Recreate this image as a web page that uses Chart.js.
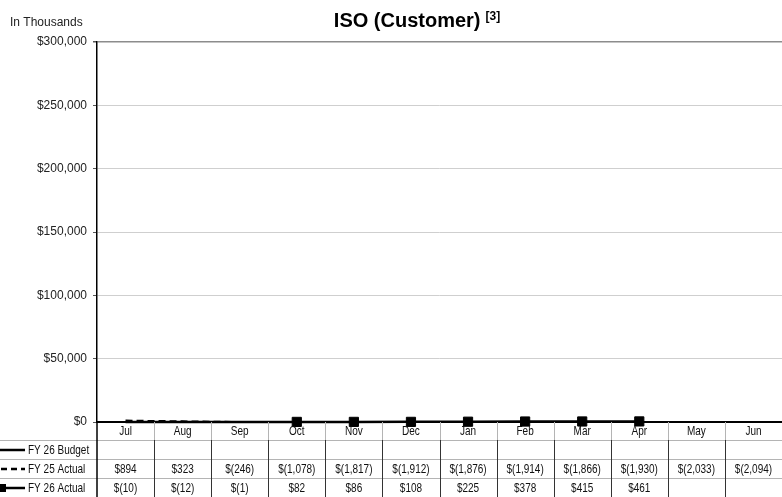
<!DOCTYPE html>
<html>
<head>
<meta charset="utf-8">
<script src="https://cdn.jsdelivr.net/npm/chart.js@4.4.1/dist/chart.umd.min.js"></script>
<style>
  html, body { margin: 0; padding: 0; background: #fff; }
  #wrap { position: relative; width: 782px; height: 497px; }
</style>
</head>
<body>
<div id="wrap"><canvas id="graficoIso"></canvas></div>
<script>
// dados (em milhares)
const meses = ['Jul', 'Aug', 'Sep', 'Oct', 'Nov', 'Dec', 'Jan', 'Feb', 'Mar', 'Apr', 'May', 'Jun'];
const fy26Budget = [null, null, null, null, null, null, null, null, null, null, null, null];
const fy25Actual = [894, 323, -246, -1078, -1817, -1912, -1876, -1914, -1866, -1930, -2033, -2094];
const fy26Actual = [-10, -12, -1, 82, 86, 108, 225, 378, 415, 461, null, null];
const yTicks = [0, 50000, 100000, 150000, 200000, 250000, 300000];

const fonte = "'Liberation Sans', Arial, sans-serif";

function fmtValor(v) {
  if (v === null || v === undefined) return '';
  const s = Math.abs(v).toLocaleString('en-US');
  return v < 0 ? '$(' + s + ')' : '$' + s;
}

// texto "narrow": escala horizontal
function textoNarrow(ctx, txt, x, y, align) {
  const k = 0.77;
  ctx.save();
  ctx.translate(x, y);
  ctx.scale(k, 1);
  ctx.textAlign = align;
  ctx.fillText(txt, 0, 0);
  ctx.restore();
}

const series = [
  { nome: 'FY 26 Budget', dados: fy26Budget, tipo: 'solid' },
  { nome: 'FY 25 Actual', dados: fy25Actual, tipo: 'dash' },
  { nome: 'FY 26 Actual', dados: fy26Actual, tipo: 'marker' }
];

// titulo com sobrescrito
const titulo = {
  id: 'titulo',
  afterDraw(chart) {
    const ctx = chart.ctx;
    ctx.save();
    ctx.fillStyle = '#000';
    ctx.textBaseline = 'alphabetic';
    ctx.textAlign = 'left';
    ctx.font = 'bold 20px ' + fonte;
    const txt = 'ISO (Customer)';
    const w = ctx.measureText(txt).width;
    ctx.font = 'bold 12px ' + fonte;
    const wSup = ctx.measureText('[3]').width;
    const x0 = 417 - (w + 5 + wSup) / 2;
    ctx.font = 'bold 20px ' + fonte;
    ctx.fillText(txt, x0, 27);
    ctx.font = 'bold 12px ' + fonte;
    ctx.fillText('[3]', x0 + w + 5, 20);
    ctx.font = '12px ' + fonte;
    ctx.fillStyle = '#222';
    ctx.fillText('In Thousands', 10, 26);
    ctx.restore();
  }
};

// tabela de dados abaixo do grafico
const tabela = {
  id: 'tabela',
  afterDraw(chart) {
    const { ctx, chartArea: a, scales: { x } } = chart;
    const colW = (a.right - a.left) / meses.length;
    const top = a.bottom;
    const headH = 18;
    const rowH = 19;
    ctx.save();

    // linhas horizontais
    ctx.strokeStyle = '#b4b4b4';
    ctx.lineWidth = 1;
    for (let r = 0; r < series.length; r++) {
      const y = Math.round(top + headH + r * rowH) + 0.5;
      ctx.beginPath();
      ctx.moveTo(0, y);
      ctx.lineTo(a.right, y);
      ctx.stroke();
    }

    // linhas verticais
    for (let i = 1; i < meses.length; i++) {
      const xx = Math.round(a.left + i * colW) + 0.5;
      ctx.strokeStyle = '#b4b4b4';
      ctx.beginPath();
      ctx.moveTo(xx, top);
      ctx.lineTo(xx, top + headH);
      ctx.stroke();
      ctx.strokeStyle = '#333';
      ctx.beginPath();
      ctx.moveTo(xx, top + headH);
      ctx.lineTo(xx, chart.height);
      ctx.stroke();
    }
    ctx.strokeStyle = '#000';
    ctx.lineWidth = 1.5;
    ctx.beginPath();
    ctx.moveTo(a.left, top);
    ctx.lineTo(a.left, chart.height);
    ctx.stroke();

    // meses
    ctx.fillStyle = '#111';
    ctx.font = '13px ' + fonte;
    ctx.textBaseline = 'middle';
    meses.forEach((m, i) => {
      textoNarrow(ctx, m, x.getPixelForValue(i), top + headH / 2, 'center');
    });

    // linhas de valores + legenda
    series.forEach((s, r) => {
      const yc = top + headH + r * rowH + rowH / 2 + 0.5;
      ctx.fillStyle = '#111';
      s.dados.forEach((v, i) => {
        textoNarrow(ctx, fmtValor(v), x.getPixelForValue(i), yc, 'center');
      });
      // amostra da legenda
      ctx.strokeStyle = '#000';
      ctx.lineWidth = 2.5;
      ctx.setLineDash(s.tipo === 'dash' ? [6, 4] : []);
      ctx.beginPath();
      ctx.moveTo(s.tipo === 'dash' ? 1 : 0, yc);
      ctx.lineTo(25, yc);
      ctx.stroke();
      ctx.setLineDash([]);
      if (s.tipo === 'marker') {
        ctx.fillStyle = '#000';
        ctx.fillRect(0, yc - 4, 6, 8);
      }
      ctx.fillStyle = '#111';
      textoNarrow(ctx, s.nome, 28, yc, 'left');
    });
    ctx.restore();
  }
};

const ctxIso = document.getElementById('graficoIso');
new Chart(ctxIso, {
  type: 'line',
  data: {
    labels: meses,
    datasets: [
      {
        label: 'FY 26 Budget',
        data: fy26Budget,
        borderColor: '#000',
        borderWidth: 2.5,
        pointRadius: 0
      },
      {
        label: 'FY 25 Actual',
        data: fy25Actual,
        borderColor: '#000',
        borderWidth: 2.5,
        borderDash: [7, 4],
        pointRadius: 0
      },
      {
        label: 'FY 26 Actual',
        data: fy26Actual,
        clip: false,
        borderColor: '#000',
        backgroundColor: '#000',
        borderWidth: 2.5,
        pointStyle: 'rect',
        pointRadius: c => (c.raw !== null && c.raw >= 0 ? 6.5 : 0),
        pointBackgroundColor: '#000',
        pointBorderColor: '#000',
        pointBorderWidth: 1
      }
    ]
  },
  options: {
    responsive: true,
    maintainAspectRatio: false,
    animation: false,
    layout: {
      padding: { top: 42, bottom: 75, left: 0, right: 0 }
    },
    plugins: {
      legend: { display: false },
      tooltip: { enabled: false },
      title: { display: false }
    },
    scales: {
      y: {
        min: 0,
        max: 300000,
        afterBuildTicks: scale => { scale.ticks = yTicks.map(v => ({ value: v })); },
        afterFit: scale => { scale.width = 97; },
        ticks: {
          color: '#222',
          font: { family: fonte, size: 12 },
          padding: 6,
          callback: v => '$' + Number(v).toLocaleString('en-US')
        },
        grid: {
          color: c => (c.tick && c.tick.value === 300000 ? '#8c8c8c' : '#cfcfcf'),
          lineWidth: c => (c.tick && c.tick.value === 300000 ? 1.5 : 1),
          tickColor: '#555',
          tickLength: 4
        },
        border: { color: '#000', width: 1.5 }
      },
      x: {
        offset: true,
        ticks: { display: false },
        grid: { display: false, drawTicks: false },
        border: { color: '#000', width: 2 }
      }
    }
  },
  plugins: [titulo, tabela]
});
</script>
</body>
</html>
